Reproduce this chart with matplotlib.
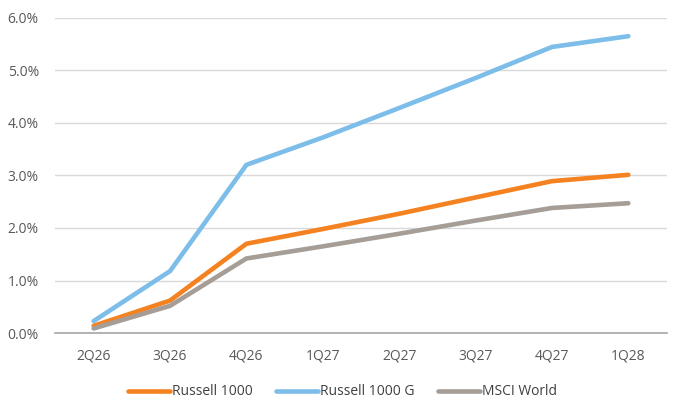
import matplotlib
matplotlib.use("Agg")
import matplotlib.pyplot as plt
from matplotlib.ticker import FuncFormatter

categories = ["2Q26", "3Q26", "4Q26", "1Q27", "2Q27", "3Q27", "4Q27", "1Q28"]
russell_1000 = [0.14, 0.62, 1.70, 1.98, 2.27, 2.58, 2.89, 3.01]
russell_1000_g = [0.23, 1.18, 3.20, 3.72, 4.28, 4.85, 5.44, 5.645]
msci_world = [0.09, 0.52, 1.42, 1.65, 1.89, 2.14, 2.38, 2.47]
yticks = [0, 1, 2, 3, 4, 5, 6]

plt.rcParams['font.family'] = ['Open Sans', 'DejaVu Sans']

fig = plt.figure(figsize=(6.85, 4.17), dpi=100)
ax = fig.add_axes([0.081, 0.201, 0.892, 0.757])

x = list(range(len(categories)))
series = [
    ("Russell 1000", russell_1000, "#F58220"),
    ("Russell 1000 G", russell_1000_g, "#7DBDE9"),
    ("MSCI World", msci_world, "#A59D96"),
]
for name, vals, col in series:
    ax.plot(x, vals, color=col, lw=3.3, label=name, solid_capstyle='round',
            solid_joinstyle='round', zorder=3)

ax.set_xlim(-0.5, len(categories) - 0.5)
ax.set_ylim(0, 6)
ax.set_yticks(yticks)
ax.yaxis.set_major_formatter(FuncFormatter(lambda v, p: f"{v:.1f}%"))
ax.set_xticks(x)
ax.set_xticklabels(categories)
ax.grid(axis='y', color='#D9D9D9', lw=1)
ax.set_axisbelow(True)
for s in ['top', 'right', 'left']:
    ax.spines[s].set_visible(False)
ax.spines['bottom'].set_color('#A6A6A6')
ax.spines['bottom'].set_linewidth(1.2)
ax.tick_params(axis='both', length=0, colors='#595959', labelsize=10)
ax.tick_params(axis='x', pad=11)
ax.tick_params(axis='y', pad=12)

leg = fig.legend(loc='center', bbox_to_anchor=(0.5, 0.06), ncol=3, frameon=False,
                 fontsize=10, handlelength=3.0, handletextpad=0.15, columnspacing=1.7,
                 labelcolor='#404040')

fig.savefig("out.png", dpi=100)
